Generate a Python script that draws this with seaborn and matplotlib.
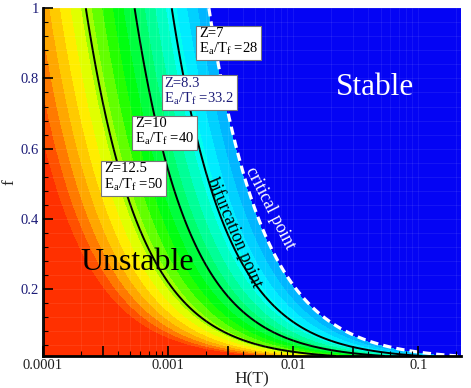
import numpy as np
import seaborn as sns
import matplotlib
matplotlib.use("Agg")
import matplotlib.pyplot as plt
import matplotlib.ticker as ticker
from matplotlib.colors import LinearSegmentedColormap

# curves of constant f*H (Z labels and Ea/Tf values)
z_values = [12.5, 10, 8.3, 7]
ea_tf = ["50", "40", "33.2", "28"]
fh_curve = [2.2e-4, 5.4e-4, 1.07e-3, 2.12e-3]   # last one = critical point

# where each label box sits (H, f)
box_h = [5.3e-4, 9.4e-4, 1.78e-3, 3.06e-3]
box_f = [0.518, 0.647, 0.762, 0.903]

x_major = [1e-4, 3e-4, 1e-3, 3e-3, 1e-2, 3e-2, 0.1]
x_labels = {1e-4: "0.0001", 1e-3: "0.001", 1e-2: "0.01", 1e-1: "0.1"}

sns.set_style("ticks")
plt.rcParams["font.family"] = ["Liberation Serif", "DejaVu Serif"]
plt.rcParams["mathtext.fontset"] = "custom"
plt.rcParams["mathtext.rm"] = "Liberation Serif"

# field: log10(f*H)
h = np.logspace(-4, np.log10(0.22), 600)
f = np.linspace(0.01, 1.0, 600)
HH, FF = np.meshgrid(h, f)
P = np.log10(HH * FF)

p_crit = np.log10(fh_curve[-1])
p_low = -4.2
n_bands = 18
band_levels = list(np.linspace(p_low, p_crit, n_bands + 1))

# tecplot-like small rainbow, red -> blue
cmap = LinearSegmentedColormap.from_list("rainbow_small", [
    (0.0, "#ff3200"),
    (0.15, "#ffa500"),
    (0.29, "#ffff00"),
    (0.52, "#00ff00"),
    (0.84, "#00ffff"),
    (1.0, "#00b0ff"),
])
mids = [(i + 0.75) / n_bands for i in range(n_bands)]
band_colors = [cmap(m) for m in mids]
red = "#ff3000"
blue = "#0404f4"

fig, ax = plt.subplots(figsize=(4.71, 3.88), dpi=100)
fig.subplots_adjust(left=0.0913, right=0.9788, bottom=0.0825, top=0.979)

ax.contourf(HH, FF, P, levels=[P.min() - 1] + band_levels + [P.max() + 1],
            colors=[red] + band_colors + [blue])
ax.contour(HH, FF, P, levels=np.log10(fh_curve[:3]), colors="black",
           linewidths=1.4, linestyles="solid")
ax.contour(HH, FF, P, levels=[p_crit], colors="white", linewidths=2.3,
           linestyles=[(0, (2.6, 1.6))])

ax.set_xscale("log")
ax.set_xlim(1e-4, 0.22)
ax.set_ylim(0.01, 1)

# faint mesh lines
ax.set_axisbelow(False)
ax.grid(True, which="both", color="white", alpha=0.1, linewidth=0.5)

ax.xaxis.set_major_locator(ticker.FixedLocator(x_major))
ax.xaxis.set_major_formatter(ticker.FuncFormatter(
    lambda v, pos: next((s for k, s in x_labels.items() if abs(v / k - 1) < 1e-6), "")))
ax.xaxis.set_minor_locator(ticker.LogLocator(base=10, subs=[2, 4, 5, 6, 7, 8, 9]))
ax.xaxis.set_minor_formatter(ticker.NullFormatter())
ax.yaxis.set_major_locator(ticker.FixedLocator([0.2, 0.4, 0.6, 0.8, 1.0]))
ax.yaxis.set_major_formatter(ticker.FixedFormatter(["0.2", "0.4", "0.6", "0.8", "1"]))
ax.yaxis.set_minor_locator(ticker.MultipleLocator(0.04))

ax.tick_params(which="both", direction="in", color="black", width=1.2)
ax.tick_params(which="major", length=7, labelsize=10.5, pad=3)
ax.tick_params(which="minor", length=3.5, width=0.8)
ax.tick_params(axis="y", labelcolor="#1c1c78")
ax.tick_params(axis="x", labelcolor="#202020", pad=2)

for s in ["top", "right"]:
    ax.spines[s].set_visible(False)
for s in ["left", "bottom"]:
    ax.spines[s].set_linewidth(2)
    ax.spines[s].set_color("black")

ax.set_xlabel("H(T)", fontsize=12.5, labelpad=0)
ax.set_ylabel("f", fontsize=12.5, labelpad=2)

for i, (z, e) in enumerate(zip(z_values, ea_tf)):
    col = "#1c1c78" if z == 8.3 else "black"
    ax.text(box_h[i], box_f[i], f"Z={z:g}\nE$_\\mathrm{{a}}$/T$_\\mathrm{{f}}$ ={e}",
            fontsize=10.5, color=col, ha="center", va="center", multialignment="left",
            linespacing=1.05,
            bbox=dict(boxstyle="square,pad=0.2", fc="white", ec="#777777", lw=0.8))

ax.text(10 ** -2.466, 0.364, "bifurcation point", rotation=-67, fontsize=12.8,
        color="black", ha="center", va="center", rotation_mode="anchor")
ax.text(10 ** -2.183, 0.430, "critical point", rotation=-63, fontsize=12.8,
        color="white", ha="center", va="center", rotation_mode="anchor")
ax.text(10 ** -3.243, 0.275, "Unstable", fontsize=23, color="black",
        ha="center", va="center")
ax.text(10 ** -1.347, 0.773, "Stable", fontsize=22.5, color="white",
        ha="center", va="center")

fig.savefig("out.png", dpi=100)
